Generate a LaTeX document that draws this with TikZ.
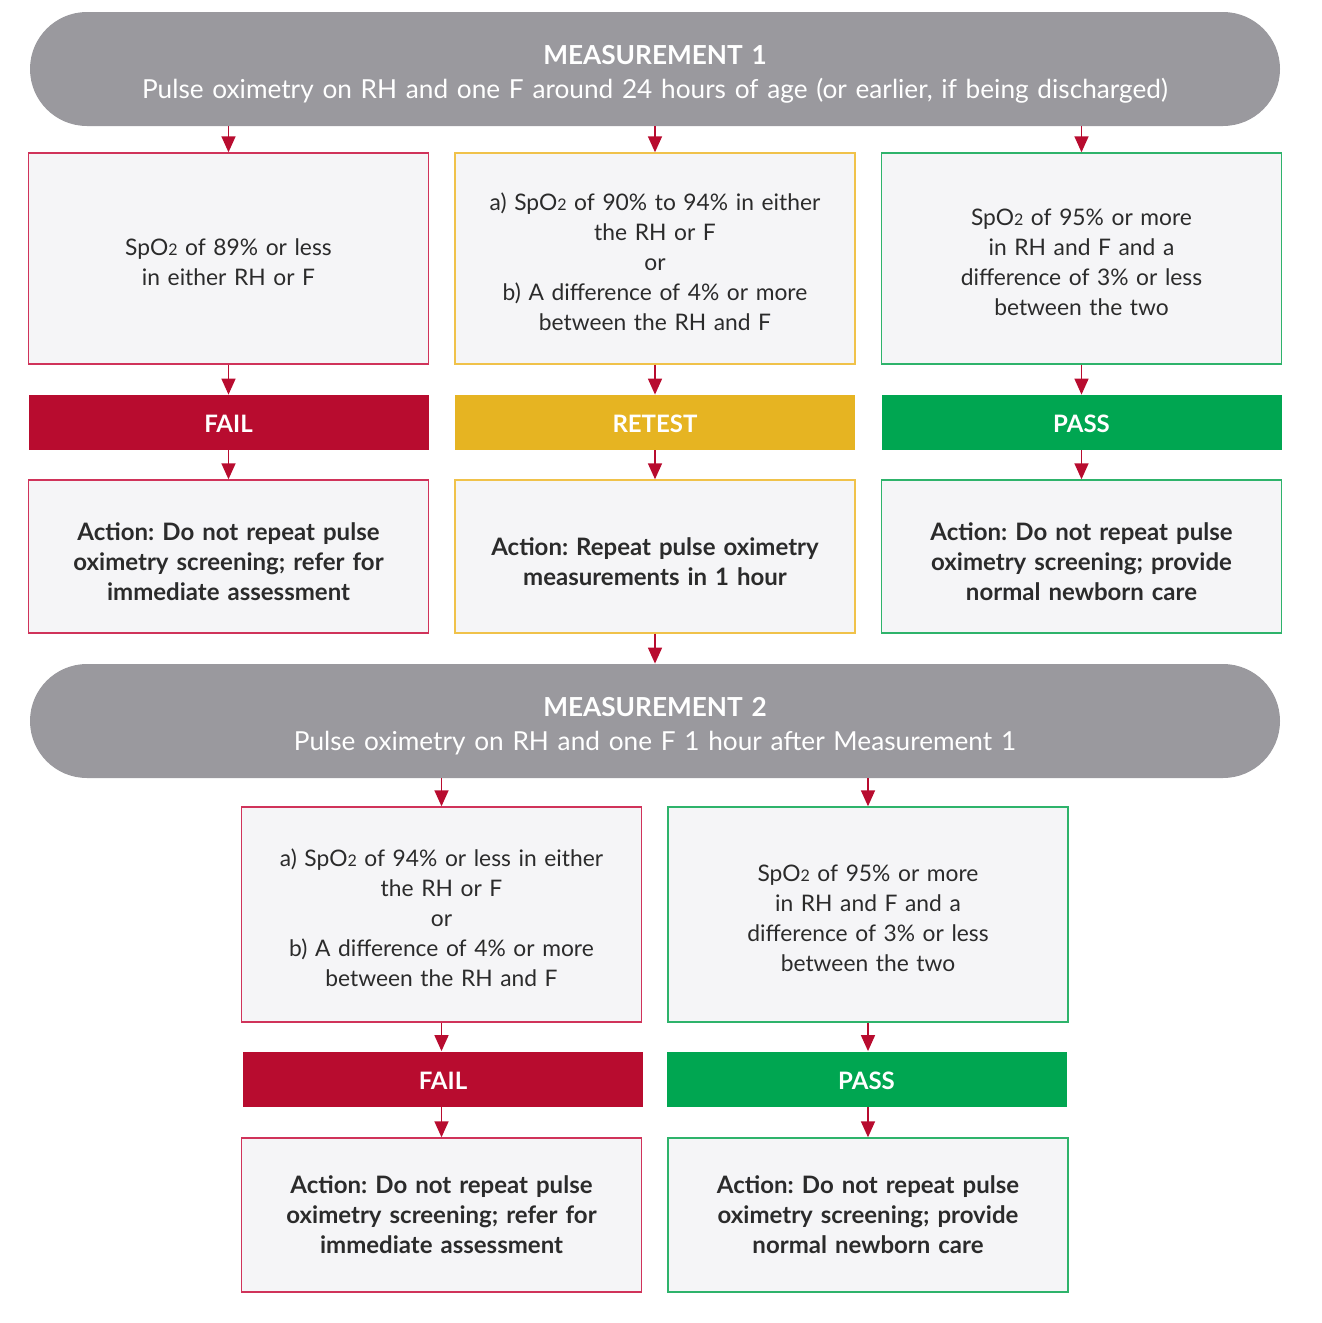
\documentclass[tikz,border=0pt]{standalone}
\usepackage{fontspec}
\setmainfont{Lato}
\frenchspacing
\usetikzlibrary{arrows.meta}

\definecolor{pillgray}{HTML}{9A999E}
\definecolor{boxfill}{HTML}{F5F5F7}
\definecolor{failred}{HTML}{B80C2F}
\definecolor{failline}{HTML}{D0335A}
\definecolor{retestyel}{HTML}{E6B422}
\definecolor{retestline}{HTML}{F0C24A}
\definecolor{passgreen}{HTML}{00A651}
\definecolor{passline}{HTML}{2EB36B}
\definecolor{bodytext}{HTML}{2B2B2B}

\newcommand{\spo}{SpO{\footnotesize 2}}
\newcommand{\actlift}{14pt}

\begin{document}
\begin{tikzpicture}[x=0.5pt,y=-0.5pt]
\tikzset{
  pill/.style={fill=pillgray, rounded corners=28.5pt, minimum width=625pt,
    minimum height=57pt, text=white, text width=600pt, align=center,
    font=\fontsize{13.1}{17}\selectfont,
    execute at begin node=\rule{0pt}{15pt}},
  cond/.style={draw=#1, fill=boxfill, line width=0.7pt, minimum width=200pt,
    text width=185pt, align=center, text=bodytext,
    font=\fontsize{11.4}{15}\selectfont,
    execute at begin node=\rule{0pt}{12.5pt}},
  bar/.style={fill=#1, minimum width=200pt, minimum height=27.5pt,
    text=white, text height=10.2pt, text depth=0pt,
    font=\fontsize{12}{15}\selectfont\bfseries},
  act/.style={draw=#1, fill=boxfill, line width=0.7pt, minimum width=200pt,
    text width=185pt, align=center, text=bodytext, minimum height=76.5pt,
    font=\fontsize{12}{15}\selectfont\bfseries,
    execute at begin node=\rule{0pt}{\actlift}},
  flow/.style={-{Triangle[length=8pt,width=7pt]}, draw=failred, line width=0.8pt}
}
\useasboundingbox (0,0) rectangle (1322,1323);

% measurement 1
\node[pill] (meas1) at (655,69) {{\bfseries MEASUREMENT 1}\\Pulse oximetry on RH and one F around 24 hours of age (or earlier, if being discharged)};

\node[cond=failline, minimum height=105.5pt] (low1) at (228.5,258.5) {\spo{} of 89\% or less\\in either RH or F};
\node[cond=retestline, minimum height=105.5pt] (mid1) at (655,258.5) {a) \spo{} of 90\% to 94\% in either\\the RH or F\\or\\b) A difference of 4\% or more\\between the RH and F};
\node[cond=passline, minimum height=105.5pt] (high1) at (1081.5,258.5) {\spo{} of 95\% or more\\in RH and F and a\\difference of 3\% or less\\between the two};

\node[bar=failred] (fail1) at (228.5,422.5) {FAIL};
\node[bar=retestyel] (retest1) at (655,422.5) {RETEST};
\node[bar=passgreen] (pass1) at (1081.5,422.5) {PASS};

\node[act=failline] (refer1) at (228.5,556.5) {Action: Do not repeat pulse\\oximetry screening; refer for\\immediate assessment};
\node[act=retestline] (repeat1) at (655,556.5) {Action: Repeat pulse oximetry\\measurements in 1 hour};
\node[act=passline] (care1) at (1081.5,556.5) {Action: Do not repeat pulse\\oximetry screening; provide\\normal newborn care};

\foreach \c/\b/\a in {low1/fail1/refer1, mid1/retest1/repeat1, high1/pass1/care1}{
  \draw[flow] (\c.north |- meas1.south) -- (\c.north);
  \draw[flow] (\c.south) -- (\b.north);
  \draw[flow] (\b.south) -- (\a.north);
}

% measurement 2
\node[pill] (meas2) at (655,721) {{\bfseries MEASUREMENT 2}\\Pulse oximetry on RH and one F 1 hour after Measurement 1};
\draw[flow] (repeat1.south) -- (meas2.north);

\node[cond=failline, minimum height=107.5pt] (low2) at (441.5,914.5) {a) \spo{} of 94\% or less in either\\the RH or F\\or\\b) A difference of 4\% or more\\between the RH and F};
\node[cond=passline, minimum height=107.5pt] (high2) at (868,914.5) {\spo{} of 95\% or more\\in RH and F and a\\difference of 3\% or less\\between the two};

\node[bar=failred] (fail2) at (443,1079) {FAIL};
\node[bar=passgreen] (pass2) at (866.5,1079) {PASS};

\begin{scope}
\renewcommand{\actlift}{7pt}
\node[act=failline, minimum height=77pt] (refer2) at (441.5,1215) {Action: Do not repeat pulse\\oximetry screening; refer for\\immediate assessment};
\node[act=passline, minimum height=77pt] (care2) at (868,1215) {Action: Do not repeat pulse\\oximetry screening; provide\\normal newborn care};
\end{scope}

\foreach \c/\b/\a in {low2/fail2/refer2, high2/pass2/care2}{
  \draw[flow] (\c.north |- meas2.south) -- (\c.north);
  \draw[flow] (\c.south) -- (\c.south |- \b.north);
  \draw[flow] (\c.south |- \b.south) -- (\a.north);
}
\end{tikzpicture}
\end{document}
